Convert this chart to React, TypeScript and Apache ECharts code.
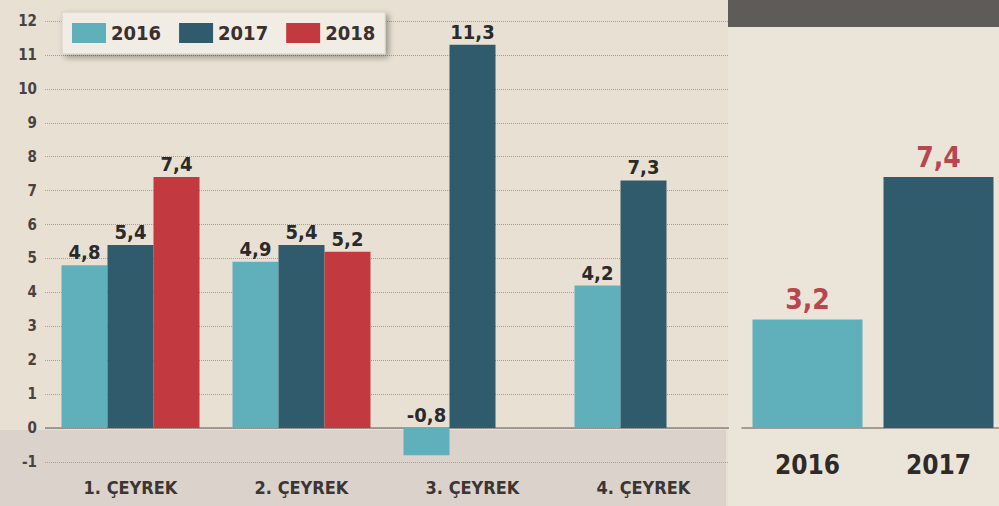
import React, { useEffect, useRef } from "react";
import * as echarts from "echarts";

const quarters = ["1. ÇEYREK", "2. ÇEYREK", "3. ÇEYREK", "4. ÇEYREK"];
const s2016 = [4.8, 4.9, -0.8, 4.2];
const s2017 = [5.4, 5.4, 11.3, 7.3];
const s2018: (number | null)[] = [7.4, 5.2, null, null];
const years = ["2016", "2017"];
const annual = [3.2, 7.4];
const yTicks = { min: -1, max: 12, interval: 1 };
const yTicksAnnual = { min: 0, max: 12, interval: 1 };

const C16 = "#5fb0bb";
const C17 = "#2f5b6c";
const C18 = "#c23a3f";
const FONT = "'DejaVu Sans Condensed', 'Liberation Sans Narrow', 'Roboto Condensed', 'DejaVu Sans', sans-serif";
const fmt = (p: any) => String(p.value).replace(".", ",");

export default function App() {
  const ref = useRef<HTMLDivElement>(null);
  useEffect(() => {
    if (!ref.current) return;
    const chart = echarts.init(ref.current, undefined, { renderer: "svg" });
    const valLabel = {
      show: true,
      position: "top" as const,
      distance: 3,
      formatter: fmt,
      fontFamily: FONT,
      fontWeight: "bold" as const,
      fontSize: 20,
      color: "#2b2a2a",
    };
    const mkBar = (name: string, data: any[], color: string, extra: any = {}) => ({
      name,
      type: "bar",
      xAxisIndex: 0,
      yAxisIndex: 0,
      data,
      barWidth: 46,
      barGap: "0%",
      itemStyle: { color },
      label: valLabel,
      z: 3,
      ...extra,
    });
    chart.setOption({
      animation: false,
      backgroundColor: "#e8e1d3",
      graphic: [
        { type: "rect", z: -10, silent: true, shape: { x: 0, y: 430, width: 726, height: 80 }, style: { fill: "#dbd2cc" } },
        { type: "rect", z: -10, silent: true, shape: { x: 728, y: 0, width: 280, height: 510 }, style: { fill: "#ebe5d9" } },
        { type: "rect", z: -9, silent: true, shape: { x: 728, y: 0, width: 280, height: 27 }, style: { fill: "#5f5b58" } },
      ],
      legend: {
        data: [
          { name: "2016", icon: "rect" },
          { name: "2017", icon: "rect" },
          { name: "2018", icon: "rect" },
        ],
        left: 62,
        top: 12,
        itemWidth: 34,
        itemHeight: 20,
        itemGap: 18,
        padding: [11, 10, 11, 10],
        backgroundColor: "#f1ede5",
        borderColor: "#d6d0c6",
        borderWidth: 1,
        shadowBlur: 6,
        shadowColor: "rgba(0,0,0,0.35)",
        shadowOffsetX: 3,
        shadowOffsetY: 3,
        textStyle: { fontFamily: FONT, fontWeight: "bold", fontSize: 20, color: "#3a3030" },
      },
      grid: [
        { left: 45, width: 684, top: 21, height: 441, outerBoundsMode: "none", containLabel: false },
        { left: 742, width: 262, top: 21, height: 407, outerBoundsMode: "none", containLabel: false },
      ],
      xAxis: [
        {
          type: "category",
          gridIndex: 0,
          data: quarters,
          axisLine: { show: false, onZero: false },
          axisTick: { show: false },
          axisLabel: { margin: 16, fontFamily: FONT, fontWeight: "bold", fontSize: 18, color: "#3b3535" },
        },
        {
          type: "category",
          gridIndex: 1,
          data: years,
          axisLine: { onZero: false, lineStyle: { color: "#8d857c", width: 1.5 } },
          axisTick: { show: false },
          axisLabel: { margin: 24, fontFamily: FONT, fontWeight: "bold", fontSize: 26, color: "#2e2a27" },
        },
      ],
      yAxis: [
        {
          type: "value",
          gridIndex: 0,
          ...yTicks,
          axisLine: { show: false },
          axisTick: { show: false },
          axisLabel: { margin: 8, fontFamily: FONT, fontWeight: "bold", fontSize: 15, color: "#4a4242" },
          splitLine: { lineStyle: { color: "#a69f96", type: "dotted", width: 1 } },
        },
        {
          type: "value",
          gridIndex: 1,
          ...yTicksAnnual,
          show: false,
          splitLine: { show: false },
        },
      ],
      series: [
        mkBar("2016", s2016, C16, {
          markLine: {
            silent: true,
            symbol: "none",
            label: { show: false },
            lineStyle: { color: "#8d857c", width: 1.5, type: "solid" },
            data: [{ yAxis: 0 }],
            z: 2,
          },
        }),
        mkBar("2017", s2017, C17),
        mkBar("2018", s2018, C18),
        {
          name: "Yıllık",
          type: "bar",
          xAxisIndex: 1,
          yAxisIndex: 1,
          barWidth: 110,
          data: annual.map((v, i) => ({ value: v, itemStyle: { color: i === 0 ? C16 : C17 } })),
          label: { ...valLabel, fontSize: 28, color: "#b8464f", distance: 6 },
        },
      ],
    });
    return () => chart.dispose();
  }, []);
  return <div ref={ref} style={{ position: "absolute", left: 0, top: 0, width: 999, height: 506 }} />;
}
